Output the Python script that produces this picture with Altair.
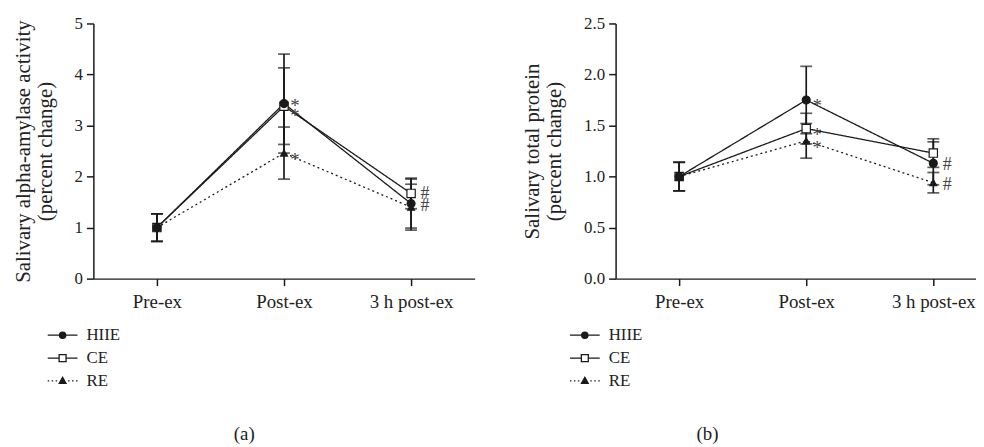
import json
import altair as alt
import pandas as pd

# ---------------- data ----------------
categories = ["Pre-ex", "Post-ex", "3 h post-ex"]
series = ["HIIE", "CE", "RE"]

# panel (a): salivary alpha-amylase activity
a_hiie = [1.00, 3.43, 1.47]
a_ce = [1.00, 3.38, 1.67]
a_re = [1.00, 2.46, 1.40]
a_hiie_err = [0.27, 0.97, 0.48]
a_ce_err = [0.27, 0.75, 0.30]
a_re_err = [0.27, 0.51, 0.45]
a_annot_cat = ["Post-ex", "Post-ex", "Post-ex", "3 h post-ex", "3 h post-ex"]
a_annot_y = [3.46, 3.27, 2.41, 1.67, 1.45]
a_annot_sym = ["*", "*", "*", "#", "#"]

# panel (b): salivary total protein
b_hiie = [1.00, 1.75, 1.13]
b_ce = [1.00, 1.47, 1.23]
b_re = [1.00, 1.35, 0.94]
b_hiie_err = [0.14, 0.33, 0.21]
b_ce_err = [0.14, 0.15, 0.14]
b_re_err = [0.14, 0.17, 0.10]
b_annot_cat = ["Post-ex", "Post-ex", "Post-ex", "3 h post-ex", "3 h post-ex"]
b_annot_y = [1.73, 1.45, 1.32, 1.12, 0.93]
b_annot_sym = ["*", "*", "*", "#", "#"]

a_yticks = [0, 1, 2, 3, 4, 5]
b_yticks = [0.0, 0.5, 1.0, 1.5, 2.0, 2.5]

# ---------------- styles ----------------
FONT = "Liberation Serif"
INK = "#1a1a1a"
TXT = "#222222"

point_style = {
    "HIIE": dict(shape="circle", fill=INK, size=64),
    "CE": dict(shape="square", fill="white", size=70),
    "RE": dict(shape="triangle-up", fill=INK, size=48),
}
dash_style = {"HIIE": [1, 0], "CE": [1, 0], "RE": [2, 3]}


def dots(x0, x1, on=0.15, period=0.4):
    segs = []
    x = x0
    while x + on <= x1 + 1e-9:
        segs.append(f"M{x:.2f},0H{x + on:.2f}")
        x += period
    return "".join(segs)


legend_paths = [
    "M-1.5,0H1.5M0.32,0A0.32,0.32,0,1,1,-0.32,0A0.32,0.32,0,1,1,0.32,0Z",
    "M-1.5,0H-0.35M0.35,0H1.5M-0.35,-0.35H0.35V0.35H-0.35Z",
    dots(-1.5, -0.5) + dots(0.55, 1.5) + "M0,-0.36L0.34,0.24H-0.34Z",
]
legend_fills = [INK, "white", INK]
legend_strokes = [INK, INK, INK]

label_expr = json.dumps(categories) + "[datum.value]"


def panel(means, errs, annot, yticks, yfmt, ytitle, xmax, width, legend_x,
          title_text, title_dx):
    rows = []
    for s, m, e in zip(series, means, errs):
        for i, c in enumerate(categories):
            rows.append(dict(series=s, cat=c, pos=i, mean=m[i],
                             lo=m[i] - e[i], hi=m[i] + e[i]))
    df = pd.DataFrame(rows)

    xenc = alt.X("pos:Q", scale=alt.Scale(domain=[-0.5, xmax], nice=False, zero=False),
                 axis=alt.Axis(values=[0, 1, 2], labelExpr=label_expr, title=None,
                               labelFontSize=19, labelPadding=7, tickSize=7,
                               labelFlush=False, labelOverlap=False))
    yscale = alt.Scale(domain=[yticks[0], yticks[-1]], nice=False, zero=False)
    yaxis = alt.Axis(values=yticks, format=yfmt, title=ytitle, titleFontSize=21,
                     titleLineHeight=22, titleFontWeight="normal", titlePadding=19,
                     labelFontSize=17, labelPadding=4, tickSize=7)

    layers = []
    for s in series:
        d = df[df.series == s]
        layers.append(alt.Chart(d).mark_line(color=INK, strokeWidth=1.3,
                                             strokeDash=dash_style[s]).encode(
            x=xenc, y=alt.Y("mean:Q", scale=yscale, axis=yaxis)))
    for s in series:
        d = df[df.series == s]
        layers.append(alt.Chart(d).mark_rule(color=INK, strokeWidth=1.7).encode(
            x="pos:Q", y="lo:Q", y2="hi:Q"))
        layers.append(alt.Chart(d).mark_tick(color=INK, orient="horizontal", size=12,
                                             thickness=1.7).encode(x="pos:Q", y="lo:Q"))
        layers.append(alt.Chart(d).mark_tick(color=INK, orient="horizontal", size=12,
                                             thickness=1.7).encode(x="pos:Q", y="hi:Q"))
    for s in ["CE", "RE", "HIIE"]:
        d = df[df.series == s]
        st = point_style[s]
        layers.append(alt.Chart(d).mark_point(shape=st["shape"], filled=True,
                                              fill=st["fill"], stroke=INK,
                                              strokeWidth=1.2, size=st["size"],
                                              opacity=1).encode(x="pos:Q", y="mean:Q"))

    cats, ys, syms = annot
    adf = pd.DataFrame(dict(pos=[categories.index(c) for c in cats], y=ys, sym=syms))
    layers.append(alt.Chart(adf).transform_filter(alt.datum.sym == "*").mark_text(
        font=FONT, fontSize=19, color="#444444", align="center", baseline="alphabetic",
        dx=11, dy=10).encode(x="pos:Q", y="y:Q", text="sym:N"))
    layers.append(alt.Chart(adf).transform_filter(alt.datum.sym == "#").mark_text(
        font=FONT, fontSize=18, color="#444444", align="center", baseline="alphabetic",
        dx=14, dy=6).encode(x="pos:Q", y="y:Q", text="sym:N"))

    leg = alt.Legend(orient="none", legendX=legend_x, legendY=303, title=None,
                     symbolSize=400, symbolStrokeWidth=1.3,
                     symbolOpacity=1, labelFont=FONT, labelFontSize=17, labelColor=TXT,
                     labelOffset=13, rowPadding=4)
    ldf = pd.DataFrame(dict(series=series))
    layers.append(alt.Chart(ldf).transform_filter(alt.datum.series == "__none__")
                  .mark_point(filled=True, strokeWidth=1.3).encode(
        shape=alt.Shape("series:N", scale=alt.Scale(domain=series, range=legend_paths),
                        legend=leg),
        fill=alt.Fill("series:N", scale=alt.Scale(domain=series, range=legend_fills),
                      legend=leg),
        stroke=alt.Stroke("series:N", scale=alt.Scale(domain=series, range=legend_strokes),
                          legend=leg)))

    return alt.layer(*layers).properties(
        width=width, height=257,
        title=alt.TitleParams(title_text, orient="bottom", anchor="middle", frame="group",
                              dx=title_dx, offset=37, font=FONT, fontSize=19,
                              fontWeight="normal", color=TXT))


pa = panel([a_hiie, a_ce, a_re], [a_hiie_err, a_ce_err, a_re_err],
           (a_annot_cat, a_annot_y, a_annot_sym), a_yticks, "d",
           ["Salivary alpha-amylase activity", "(percent change)"],
           2.5, 384, -42, "(a)", -40)
pb = panel([b_hiie, b_ce, b_re], [b_hiie_err, b_ce_err, b_re_err],
           (b_annot_cat, b_annot_y, b_annot_sym), b_yticks, ".1f",
           ["Salivary total protein", "(percent change)"],
           2.336, 363, -42, "(b)", -89)

chart = alt.hconcat(pa, pb, spacing=47).resolve_scale(
    x="independent", y="independent", shape="independent", fill="independent",
    stroke="independent"
).resolve_legend(shape="independent", fill="independent", stroke="independent").properties(
    padding={"left": 4, "top": 5, "right": 0, "bottom": 0}
).configure_view(stroke=None).configure_axis(
    domainColor=INK, tickColor=INK, domainWidth=1.5, tickWidth=1.5, grid=False,
    labelColor=TXT, titleColor=TXT, labelFont=FONT, titleFont=FONT
)

chart.save("out.html", embed_options={"renderer": "svg", "actions": False})
